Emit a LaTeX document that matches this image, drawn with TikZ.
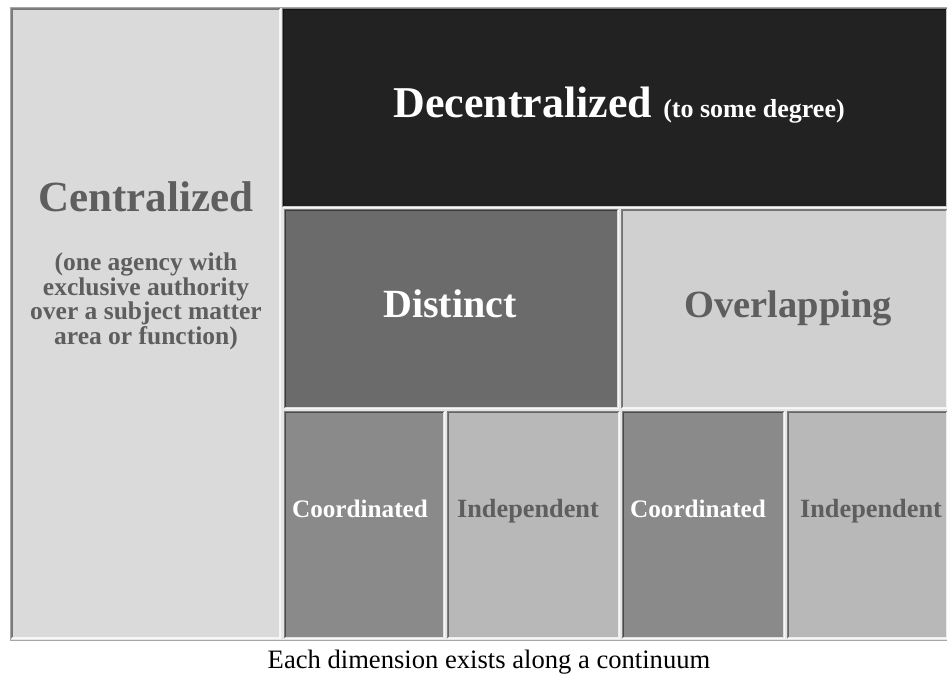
\documentclass[tikz,border=0pt]{standalone}
\usepackage{fontspec}
\setmainfont{Liberation Serif}
\definecolor{centfill}{HTML}{DADADA}
\definecolor{decfill}{HTML}{222222}
\definecolor{distfill}{HTML}{6B6B6B}
\definecolor{overfill}{HTML}{D0D0D0}
\definecolor{coofill}{HTML}{8A8A8A}
\definecolor{indfill}{HTML}{B8B8B8}
\definecolor{greytext}{HTML}{5E5E5E}
\definecolor{tablebg}{HTML}{E6E6E6}
\begin{document}
\begin{tikzpicture}[x=1pt,y=-1pt,
  cell/.style={inner sep=0pt,outer sep=0pt,anchor=north west},
  txt/.style={inner sep=0pt,anchor=base,font=\bfseries},
  dark edge/.style={draw=black,opacity=0.45,line width=1.6pt},
  light edge/.style={draw=white,opacity=0.75,line width=1.6pt}]

\useasboundingbox (0,0) rectangle (947,675);

% table frame
\fill[white] (0,0) rectangle (947,675);
\draw[fill=tablebg,draw=black!35] (10,7) rectangle (948,640);

% cells
\node[cell,fill=centfill,minimum width=268pt,minimum height=629pt] (cent) at (12,9) {};
\node[cell,fill=decfill,minimum width=664pt,minimum height=198pt] (dec) at (283,9) {};
\node[cell,fill=distfill,minimum width=333pt,minimum height=198pt] (dist) at (285,210) {};
\node[cell,fill=overfill,minimum width=325pt,minimum height=198pt] (over) at (622,210) {};
\node[cell,fill=coofill,minimum width=159pt,minimum height=226pt] (cooa) at (285,412) {};
\node[cell,fill=indfill,minimum width=171pt,minimum height=226pt] (inda) at (448,412) {};
\node[cell,fill=coofill,minimum width=161pt,minimum height=226pt] (coob) at (623,412) {};
\node[cell,fill=indfill,minimum width=159pt,minimum height=226pt] (indb) at (788,412) {};

\foreach \c in {cent,dec,dist,over,cooa,inda,coob,indb} {
  \draw[dark edge] (\c.south west) -- (\c.north west) -- (\c.north east);
  \draw[light edge] (\c.north east) -- (\c.south east) -- (\c.south west);
}

% labels
\node[txt,text=greytext,font=\bfseries\fontsize{43}{43}\selectfont] (centT) at (146,211) {Centralized};
\node[txt,text=greytext,align=center,font=\bfseries\fontsize{25.5}{24.5}\selectfont] (centS) at (146,344)
  {(one agency with\\exclusive authority\\over a subject matter\\area or function)};
\node[txt,text=white] (decT) at (619,117)
  {\fontsize{44}{44}\selectfont Decentralized\ \fontsize{26}{26}\selectfont(to some degree)};
\node[txt,text=white,font=\bfseries\fontsize{40}{40}\selectfont] (distT) at (450,317) {Distinct};
\node[txt,text=greytext,font=\bfseries\fontsize{38.5}{38.5}\selectfont] (overT) at (788,317) {Overlapping};
\node[txt,text=white,font=\bfseries\fontsize{25.2}{25.2}\selectfont] (cooaT) at (360,517) {Coordinated};
\node[txt,text=greytext,font=\bfseries\fontsize{26.3}{26.3}\selectfont] (indaT) at (528,517) {Independent};
\node[txt,text=white,font=\bfseries\fontsize{25.2}{25.2}\selectfont] (coobT) at (698,517) {Coordinated};
\node[txt,text=greytext,font=\bfseries\fontsize{26.3}{26.3}\selectfont] (indbT) at (871,517) {Independent};

% caption
\node[inner sep=0pt,anchor=base,font=\fontsize{26.6}{26.6}\selectfont] (note) at (489,668)
  {Each dimension exists along a continuum};

\end{tikzpicture}
\end{document}
